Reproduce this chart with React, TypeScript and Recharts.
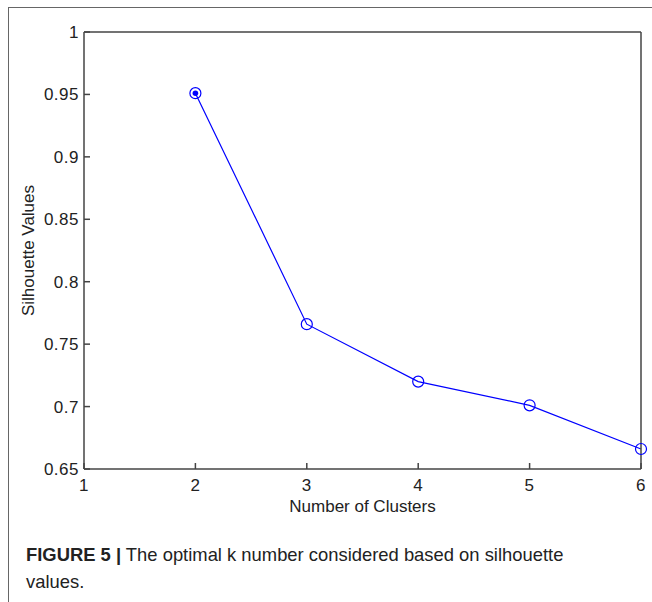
import { LineChart, Line, XAxis, YAxis } from "recharts";

const clusters = [2, 3, 4, 5, 6];
const silhouette = [0.951, 0.766, 0.72, 0.701, 0.666];
const xTicks = [1, 2, 3, 4, 5, 6];
const yTicks = [0.65, 0.7, 0.75, 0.8, 0.85, 0.9, 0.95, 1];

const data = clusters.map((k, i) => ({ k, s: silhouette[i] }));

const AXIS = "#444";
const BLUE = "#0000ff";
const FONT = "'Liberation Sans', Arial, sans-serif";

function Marker(props: any) {
  const { cx, cy, index } = props;
  if (cx == null || cy == null) return null;
  return (
    <g>
      <circle cx={cx} cy={cy} r={5.5} fill="none" stroke={BLUE} strokeWidth={1.2} />
      {index === 0 && <circle cx={cx} cy={cy} r={2.8} fill={BLUE} />}
    </g>
  );
}

export default function App() {
  const tickStyle = { fill: "#222", fontSize: 17, fontFamily: FONT, letterSpacing: 0.5 };
  return (
    <div style={{ position: "absolute", left: 0, top: 0, width: 652, height: 602, background: "#fff" }}>
      <div
        style={{
          position: "absolute",
          left: 8,
          top: 7,
          width: 644,
          height: 595,
          borderTop: "1.5px solid #666",
          borderLeft: "1.5px solid #666",
        }}
      />
      <div style={{ position: "absolute", left: 0, top: 0 }}>
        <LineChart width={652} height={602} data={data} margin={{ top: 31, right: 10, left: 24, bottom: 73 }}>
          <XAxis
            dataKey="k"
            type="number"
            domain={[1, 6]}
            ticks={xTicks}
            stroke={AXIS}
            strokeWidth={1.5}
            tickSize={-6}
            tickMargin={16}
            height={60}
            tick={tickStyle}
            label={{
              value: "Number of Clusters",
              position: "insideBottom",
              offset: 17,
              style: { fill: "#222", fontSize: 17, fontFamily: FONT },
            }}
          />
          <XAxis
            xAxisId="top"
            orientation="top"
            dataKey="k"
            type="number"
            domain={[1, 6]}
            ticks={xTicks}
            stroke={AXIS}
            strokeWidth={1.5}
            tickSize={-6}
            height={1}
            tick={false}
          />
          <YAxis
            type="number"
            domain={[0.65, 1]}
            ticks={yTicks}
            stroke={AXIS}
            strokeWidth={1.5}
            tickSize={-6}
            tickMargin={11}
            width={60}
            tick={tickStyle}
            label={{
              value: "Silhouette Values",
              angle: -90,
              position: "insideLeft",
              offset: 4,
              style: { fill: "#222", fontSize: 17, fontFamily: FONT, textAnchor: "middle" },
            }}
          />
          <YAxis
            yAxisId="r"
            orientation="right"
            type="number"
            domain={[0.65, 1]}
            ticks={yTicks}
            stroke={AXIS}
            strokeWidth={1.5}
            tickSize={-6}
            width={1}
            tick={false}
          />
          <Line
            type="linear"
            dataKey="s"
            stroke={BLUE}
            strokeWidth={1.2}
            dot={<Marker />}
            activeDot={false}
            isAnimationActive={false}
          />
        </LineChart>
      </div>
      <div
        style={{
          position: "absolute",
          left: 26,
          top: 541,
          fontFamily: FONT,
          fontSize: 18.4,
          lineHeight: "27px",
          color: "#222",
        }}
      >
        <b>FIGURE 5 |</b> The optimal k number considered based on silhouette
        <br />
        values.
      </div>
    </div>
  );
}
